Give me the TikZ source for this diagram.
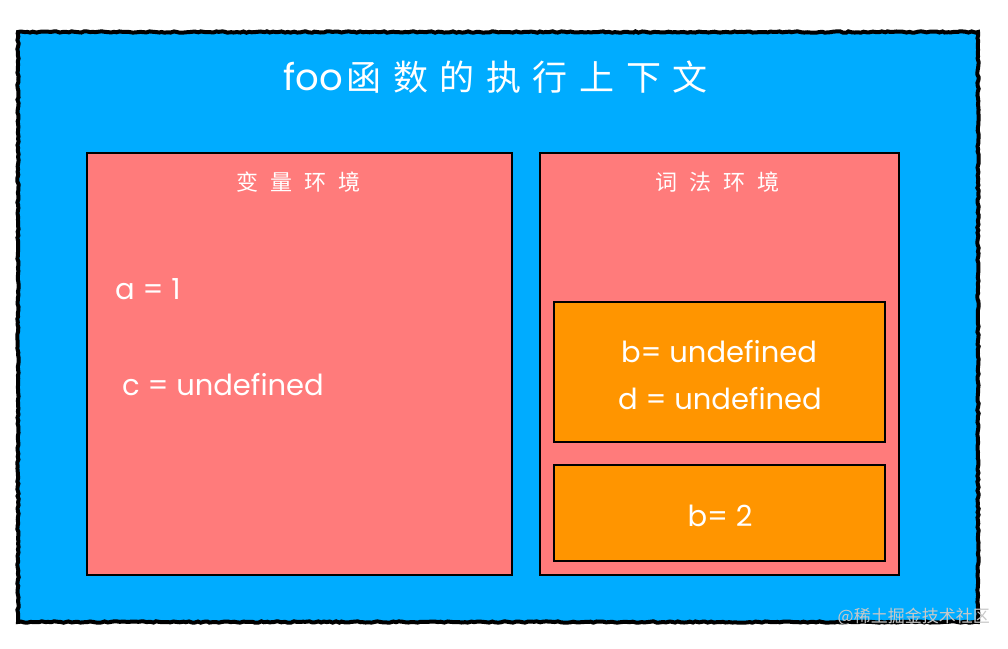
\documentclass[tikz,border=0pt]{standalone}
\usepackage{fontspec}
\setmainfont{Noto Sans CJK SC}
\newfontfamily\latinfont{Poppins}
\usetikzlibrary{decorations.pathmorphing}
\definecolor{bgblue}{RGB}{0,172,255}
\definecolor{envpink}{RGB}{255,123,123}
\definecolor{boxorange}{RGB}{255,149,0}
\definecolor{wmgray}{RGB}{200,200,200}
\tikzset{
  envbox/.style={draw=black, line width=2.5pt, fill=envpink},
  recbox/.style={draw=black, line width=2.5pt, fill=boxorange},
  wtext/.style={text=white, inner sep=0pt},
  vartext/.style={wtext, font=\latinfont\fontsize{29}{34}\selectfont},
  envlabel/.style={wtext, font=\fontsize{22}{26}\selectfont\addfontfeature{LetterSpace=55}},
}
\begin{document}
\begin{tikzpicture}[x=1pt,y=-1pt]
\useasboundingbox (0,0) rectangle (1008,648);
\fill[white] (0,0) rectangle (1008,648);
% outer context
\fill[bgblue] (18,32) rectangle (978,622);
\draw[line width=4pt, decorate, decoration={random steps, segment length=3pt, amplitude=0.7pt}] (18,32) -- (978,32) -- (978,622) -- (18,622) -- cycle;
\node[wtext, anchor=west, font=\fontsize{35}{40}\selectfont] (title) at (283,77) {{\latinfont\fontsize{37}{40}\selectfont foo}\hspace{4pt}{\addfontfeature{LetterSpace=33}函数的执行上下文}};
% variable environment
\draw[envbox] (87,153) rectangle (512,575);
\node[envlabel, anchor=west] (varlbl) at (236,182) {变量环境};
\node[vartext, anchor=west] (a) at (115,289) {a = 1};
\node[vartext, anchor=west] (c) at (122,385) {c = undefined};
% lexical environment
\draw[envbox] (540,153) rectangle (899,575);
\node[envlabel, anchor=west] (lexlbl) at (655,182) {词法环境};
\draw[recbox] (554,302) rectangle (885,442);
\node[vartext] (b) at (719,352) {b= undefined};
\node[vartext] (d) at (720,399) {d = undefined};
\draw[recbox] (554,465) rectangle (885,561);
\node[vartext] (b2) at (720,516) {b= 2};
% watermark
\node[text=wmgray, anchor=east, inner sep=0pt, font=\fontsize{17}{20}\selectfont] (wm) at (990,617) {@稀土掘金技术社区};
\end{tikzpicture}
\end{document}
